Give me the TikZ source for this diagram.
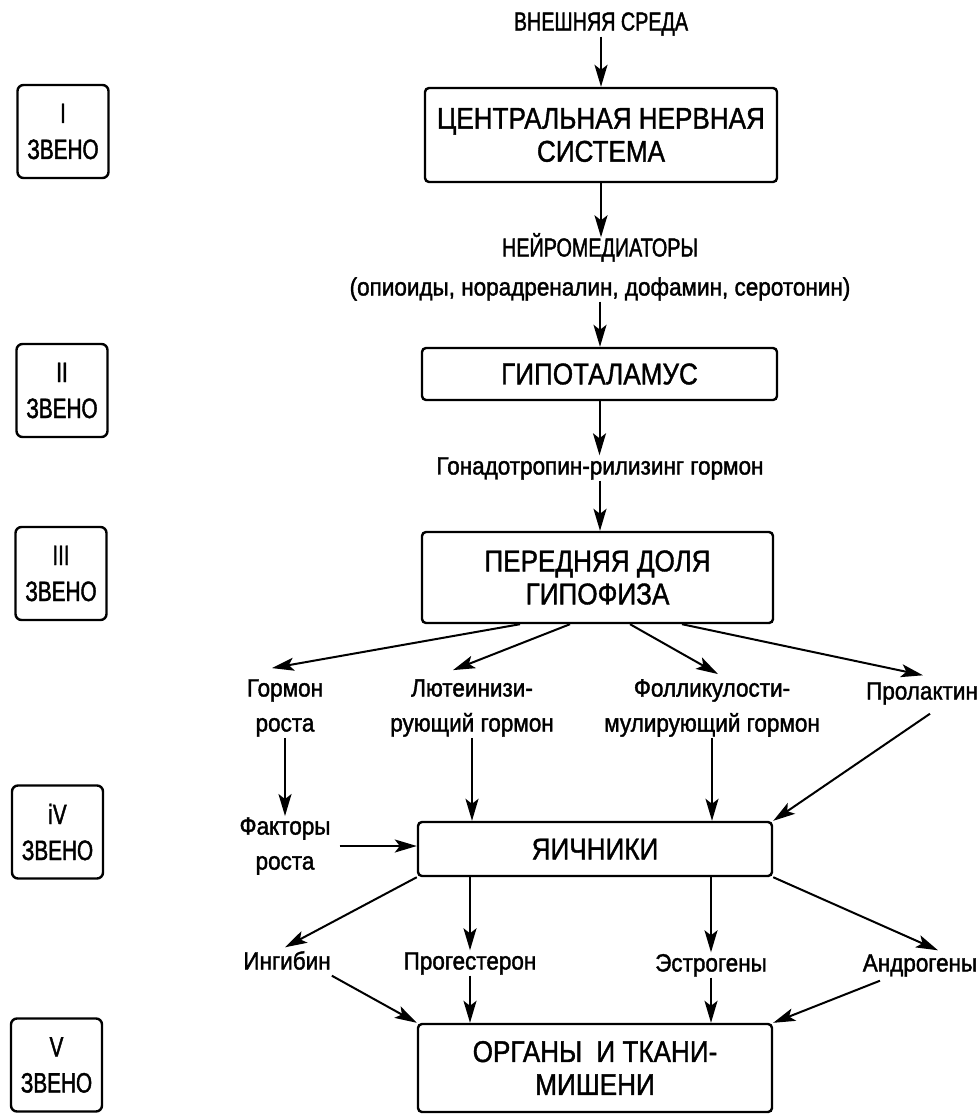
\documentclass[tikz,border=0pt]{standalone}
\usepackage{fontspec}
\setmainfont[FakeStretch=0.87,FakeBold=1.2]{Liberation Sans}
\newfontfamily\lvlfam[FakeStretch=0.74,FakeBold=1.5]{Liberation Sans}
\newfontfamily\capfam[FakeStretch=0.76,FakeBold=1.5]{Liberation Sans}
\newfontfamily\labfam[FakeStretch=0.9,FakeBold=1.5]{Liberation Sans}
\usetikzlibrary{arrows.meta,calc}
\newcommand\boxfnt{\rmfamily\fontsize{30}{33}\selectfont}
\newcommand\labfnt{\labfam\fontsize{25}{35}\selectfont}
\newcommand\capfnt{\capfam\fontsize{26}{30}\selectfont}
\newcommand\lvlfnt{\lvlfam\fontsize{28}{36}\selectfont}
\begin{document}
\begin{tikzpicture}[x=1pt,y=-1pt,
  box/.style={draw,line width=2.4pt,rounded corners=4pt,align=center,font=\boxfnt,inner sep=0pt},
  lab/.style={align=center,inner sep=1pt,font=\labfnt},
  slab/.style={lab,text height=18pt,text depth=5pt},
  arr/.style={line width=2pt,-{Stealth[length=22pt,width=13pt,inset=5pt]}},
  lvl/.style={draw,line width=2.4pt,rounded corners=6pt,minimum width=91pt,minimum height=93pt,align=center,font=\lvlfnt,inner sep=0pt}]
\useasboundingbox[fill=white] (0,0) rectangle (980,1114);

% level boxes
\node[lvl] (l1) at (63,131.5) {I\\ЗВЕНО};
\node[lvl] (l2) at (62,390.5) {II\\ЗВЕНО};
\node[lvl] (l3) at (61,573.5) {III\\ЗВЕНО};
\node[lvl] (l4) at (57.5,832) {iV\\ЗВЕНО};
\node[lvl] (l5) at (56.5,1065) {V\\ЗВЕНО};

% main column
\node[slab,font=\capfnt] (ext) at (601,24) {ВНЕШНЯЯ СРЕДА};
\node[box,minimum width=352pt,minimum height=94pt] (cns) at (601,135) {ЦЕНТРАЛЬНАЯ НЕРВНАЯ\\СИСТЕМА};
\node[slab,font=\capfnt] (nm) at (600,250) {НЕЙРОМЕДИАТОРЫ};
\node[slab] (op) at (600,289) {(опиоиды, норадреналин, дофамин, серотонин)};
\node[box,minimum width=355pt,minimum height=52pt] (hyp) at (599.5,374) {ГИПОТАЛАМУС};
\node[slab] (gn) at (600,468) {Гонадотропин-рилизинг гормон};
\node[box,minimum width=351pt,minimum height=91pt] (pit) at (597.5,577.5) {ПЕРЕДНЯЯ ДОЛЯ\\ГИПОФИЗА};

\node[lab] (gr) at (285,708) {Гормон\\роста};
\node[lab] (lh) at (472,708) {Лютеинизи-\\рующий гормон};
\node[lab] (fsh) at (712,708) {Фолликулости-\\мулирующий гормон};
\node[slab] (prl) at (922,693) {Пролактин};

\node[lab] (fr) at (285,846) {Факторы\\роста};
\node[box,minimum width=354pt,minimum height=54pt] (ova) at (595,849) {ЯИЧНИКИ};

\node[slab] (inh) at (287,963) {Ингибин};
\node[slab] (prog) at (470,963) {Прогестерон};
\node[slab] (est) at (711,965) {Эстрогены};
\node[slab] (andr) at (920,965) {Андрогены};

\node[box,minimum width=354pt,minimum height=88pt] (org) at (595,1068) {ОРГАНЫ\hspace{7pt} И ТКАНИ-\\МИШЕНИ};

% arrows
\draw[arr] (ext.south) -- (ext.south |- cns.north);
\draw[arr] (cns.south) -- (cns.south |- nm.north);
\draw[arr] (op.south) -- (op.south |- hyp.north);
\draw[arr] (hyp.south) -- (hyp.south |- gn.north);
\draw[arr] (gn.south) -- (gn.south |- pit.north);

\draw[arr] ($(pit.south)+(-77.5,0)$) -- ($(gr.north)+(-13,-10)$);
\draw[arr] ($(pit.south)+(-27.5,0)$) -- ($(lh.north)+(-19,-8)$);
\draw[arr] ($(pit.south)+(32.5,0)$) -- ($(fsh.north)+(6,-4)$);
\draw[arr] ($(pit.south)+(84.5,0)$) -- ($(prl.north)+(1,-5)$);

\draw[arr] (gr.south) -- (fr.north);
\draw[arr] (lh.south) -- (lh.south |- ova.north);
\draw[arr] (fsh.south) -- (fsh.south |- ova.north);
\draw[arr] ($(prl.south)+(8,8)$) -- (ova.north east);
\draw[arr] ($(fr.east)+(8,0)$) -- (fr.east -| ova.west);

\draw[arr] (ova.south west) -- ($(inh.north)+(-2,-3)$);
\draw[arr] (prog.north |- ova.south) -- (prog.north);
\draw[arr] (est.north |- ova.south) -- (est.north);
\draw[arr] (ova.south east) -- ($(andr.north)+(18,-2)$);

\draw[arr] (inh.south east) -- (org.north west);
\draw[arr] (prog.south) -- (prog.south |- org.north);
\draw[arr] (est.south) -- (est.south |- org.north);
\draw[arr] ($(andr.south)+(-40,3)$) -- (org.north east);
\end{tikzpicture}
\end{document}
